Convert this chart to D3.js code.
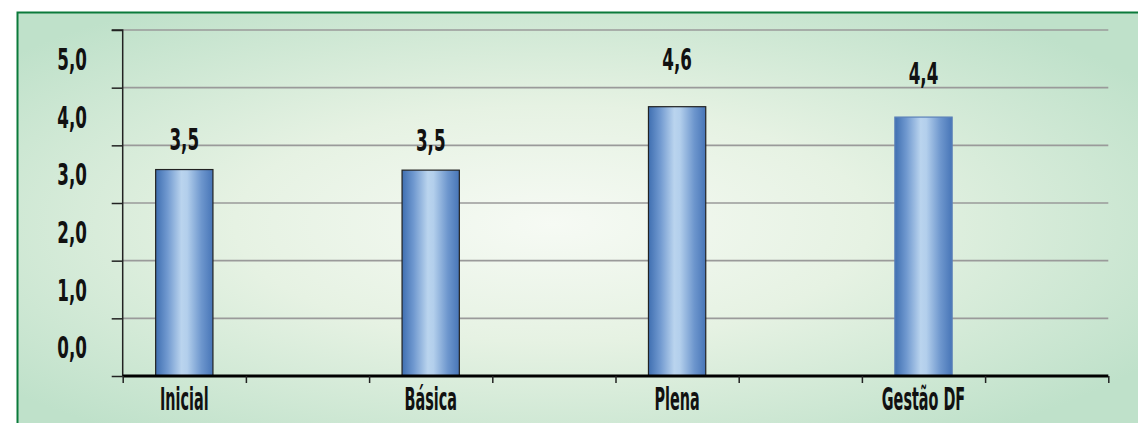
<!DOCTYPE html>
<html><head><meta charset="utf-8">
<script src="https://cdn.jsdelivr.net/npm/d3@7"></script>
<style>
html,body{margin:0;padding:0;background:#fff;}
svg{display:block;}
text{font-family:"DejaVu Sans Condensed","DejaVu Sans",sans-serif;font-weight:bold;fill:#111;}
</style></head>
<body>
<svg id="chart" width="1138" height="423"></svg>
<script>
// ---- data ----
const categories = ["Inicial", "Básica", "Plena", "Gestão DF"];
const values = [3.58, 3.57, 4.67, 4.49];
const yTicks = [0, 1, 2, 3, 4, 5, 6];
const yTickLabels = ["0,0", "1,0", "2,0", "3,0", "4,0", "5,0"];
const slotCount = 8; // each category occupies every other slot

const W = 1138, H = 423;
const svg = d3.select("#chart");
const defs = svg.append("defs");

// background gradient
const bg = defs.append("radialGradient").attr("id", "bg")
  .attr("cx", 0.47).attr("cy", 0.5).attr("r", 0.62);
bg.append("stop").attr("offset", "0%").attr("stop-color", "#f6faf4");
bg.append("stop").attr("offset", "45%").attr("stop-color", "#e6f2e3");
bg.append("stop").attr("offset", "100%").attr("stop-color", "#bfe1ca");

// bar gradient
const bgBar = defs.append("linearGradient").attr("id", "bar")
  .attr("x1", 0).attr("x2", 1).attr("y1", 0).attr("y2", 0);
[["0%", "#3f6fb1"], ["20%", "#6f98cf"], ["45%", "#bad4ee"], ["55%", "#b3cfec"], ["80%", "#6d96cd"], ["100%", "#4775b7"]]
  .forEach(([o, c]) => bgBar.append("stop").attr("offset", o).attr("stop-color", c));

svg.append("rect").attr("x", 17.5).attr("y", 12.5).attr("width", W).attr("height", H)
  .attr("fill", "url(#bg)").attr("stroke", "#0b7a3b").attr("stroke-width", 2);

// scales
const x0 = 122.7, x1 = 1108.3, yBottom = 376, yTop = 30;
const slots = d3.scaleBand().domain(d3.range(slotCount)).range([x0, x1]).paddingInner(0.535).paddingOuter(0.2675);
const y = d3.scaleLinear().domain([0, 6]).range([yBottom, yTop]);
const labelY = d3.scaleLinear().domain([0, 6]).range([411, -26.5]);
const slotOf = i => i * 2;

// gridlines
svg.append("g").selectAll("line").data(yTicks.slice(1)).join("line")
  .attr("x1", x0).attr("x2", x1)
  .attr("y1", d => y(d)).attr("y2", d => y(d))
  .attr("stroke", "#9a9a9a").attr("stroke-width", 1.6);

// y axis
const yAxis = d3.axisLeft(y).tickValues(yTicks).tickSize(11).tickFormat("");
const gy = svg.append("g").attr("transform", `translate(${x0},0)`).call(yAxis);
gy.select(".domain").attr("stroke", "#222").attr("stroke-width", 1.5).attr("d", `M-11,${yTop}H0V${yBottom}`);
gy.selectAll(".tick line").attr("stroke", "#222").attr("stroke-width", 1.5);

// y tick labels, centred between gridlines
svg.append("g").selectAll("g").data(yTickLabels).join("g")
  .attr("transform", (d, i) => `translate(87,${y(i + 0.5) + 11}) scale(0.6,1)`)
  .append("text").attr("text-anchor", "end").attr("font-size", 31).text(d => d);

// bars
svg.append("g").selectAll("rect").data(values).join("rect")
  .attr("x", (d, i) => slots(slotOf(i)))
  .attr("width", slots.bandwidth())
  .attr("y", d => y(d))
  .attr("height", d => y(0) - y(d))
  .attr("fill", "url(#bar)")
  .attr("stroke", (d, i) => i === 3 ? "#5a80b8" : "#222")
  .attr("stroke-width", 1.2);

// x axis
const xt = d3.scaleLinear().domain([0, slotCount]).range([x0, x1]);
const xAxis = d3.axisBottom(xt).tickValues(d3.range(slotCount + 1)).tickSize(7).tickFormat("");
const gx = svg.append("g").attr("transform", `translate(0,${yBottom})`).call(xAxis);
gx.select(".domain").attr("stroke", "#000").attr("stroke-width", 3.2).attr("d", `M${x0},0H${x1}`);
gx.selectAll(".tick line").attr("stroke", "#222").attr("stroke-width", 1.5);

// category labels
svg.append("g").selectAll("g").data(categories).join("g")
  .attr("transform", (d, i) => `translate(${slots(slotOf(i)) + slots.bandwidth() / 2},409.5) scale(0.5,1)`)
  .append("text").attr("text-anchor", "middle").attr("font-size", 32).text(d => d);

// value labels (truncated to one decimal, comma separator)
const fmt = v => (Math.floor(v * 10 + 1e-9) / 10).toFixed(1).replace(".", ",");
svg.append("g").selectAll("g").data(values).join("g")
  .attr("transform", (d, i) => `translate(${slots(slotOf(i)) + slots.bandwidth() / 2},${labelY(d)}) scale(0.6,1)`)
  .append("text").attr("text-anchor", "middle").attr("font-size", 31).text(d => fmt(d));
</script>
</body></html>
